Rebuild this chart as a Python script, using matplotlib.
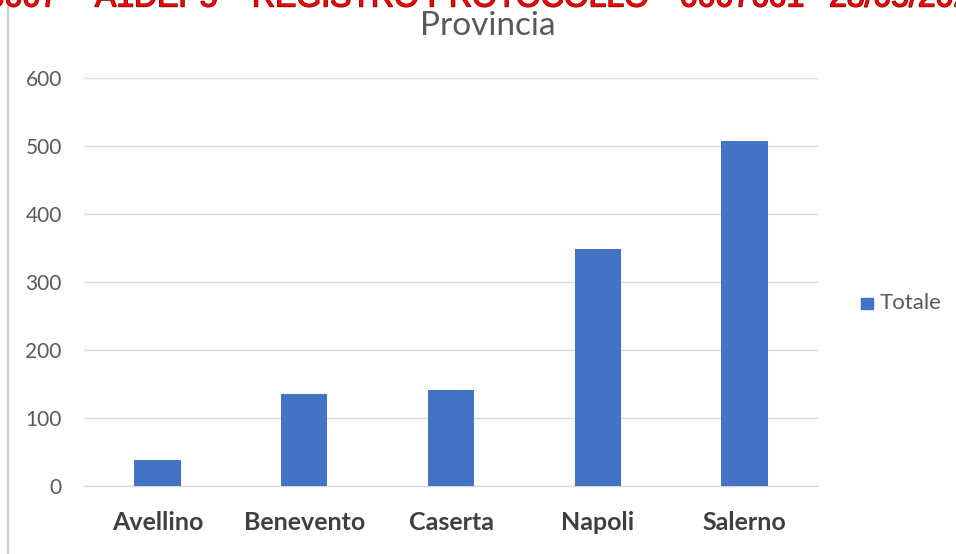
import matplotlib
matplotlib.use("Agg")
import matplotlib.pyplot as plt
from matplotlib.lines import Line2D
from matplotlib.patches import Rectangle
import matplotlib.patheffects as pe

categories = ["Avellino", "Benevento", "Caserta", "Napoli", "Salerno"]
values = [38, 136, 141, 349, 507]
yticks = [0, 100, 200, 300, 400, 500, 600]
title = "Provincia"
legend_label = "Totale"
stamp_parts = ["2023.0007", "A1DEP5", "REGISTRO PROTOCOLLO", "0007601", "23/05/2023"]

plt.rcParams['font.family'] = ['Lato', 'DejaVu Sans']

fig = plt.figure(figsize=(9.56, 5.54), dpi=100)
ax = fig.add_axes([84/956, 1-486/554, (818-84)/956, (486-78)/554])

bar_color = "#4472C4"
ax.bar(range(len(categories)), values, width=0.315, color=bar_color, zorder=3)
ax.set_xlim(-0.5, len(categories)-0.5)
ax.set_ylim(0, 600)
ax.set_yticks(yticks)
ax.set_yticklabels([str(t) for t in yticks], fontsize=15, color="#595959")
ax.set_xticks(range(len(categories)))
ax.set_xticklabels(categories, fontsize=18, fontweight="bold", color="#3F3F3F")
ax.tick_params(axis="y", length=0, pad=16)
ax.tick_params(axis="x", length=0, pad=18)
ax.grid(axis="y", color="#D9D9D9", linewidth=1.0, zorder=0)
for s in ["top", "right", "left"]:
    ax.spines[s].set_visible(False)
ax.spines["bottom"].set_color("#D9D9D9")
ax.spines["bottom"].set_linewidth(1.0)

# legend
fig.patches.append(Rectangle((861/956, 1-309/554), 12/956, 11/554, transform=fig.transFigure,
                             color=bar_color, figure=fig))
fig.text(880/956, 1-303/554, legend_label, fontsize=16, color="#595959", ha="left", va="center")

# left border line
fig.add_artist(Line2D([8/956, 8/956], [0, 1], transform=fig.transFigure, color="#D0D0D0", linewidth=1.5))

# clipped stamp at the top (only its lower part is visible)
stamp_kw = dict(fontsize=23, color="#FF0000", family=["Liberation Sans", "DejaVu Sans"],
                va="baseline", path_effects=[pe.withStroke(linewidth=1.0, foreground="#700000")])
stamp_y = 1 - 6.5/554
fig.text(58/956, stamp_y, stamp_parts[0], ha="right", **stamp_kw)
for part, xpx in zip(stamp_parts[1:], [95, 252, 680, 829]):
    fig.text(xpx/956, stamp_y, part, ha="left", **stamp_kw)

fig.text(488/956, 1-35/554, title, fontsize=24, color="#595959", ha="center", va="baseline", zorder=5)

fig.savefig("out.png", dpi=100)
